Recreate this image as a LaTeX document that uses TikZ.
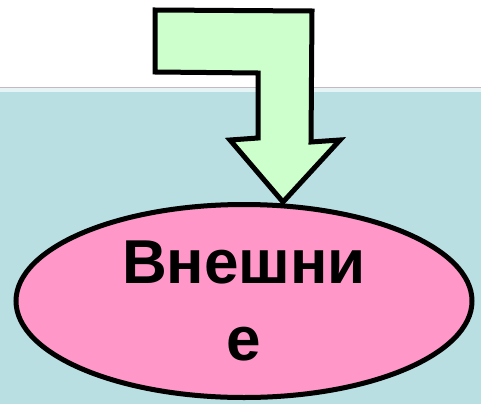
\documentclass[tikz,border=0pt]{standalone}
\usepackage{fontspec}
\setmainfont{Liberation Sans}
\usepackage{xcolor}
\usepackage{tikz}
\usetikzlibrary{shapes.geometric}
\definecolor{paleteal}{HTML}{B9DFE2}
\definecolor{tealstrip}{HTML}{E6F4F5}
\definecolor{rulegray}{HTML}{C2B9C2}
\definecolor{mint}{HTML}{CCFFCC}
\definecolor{rosepink}{HTML}{FF97C9}
\tikzset{bentarrow/.style={line width=5pt,black,fill=mint,line join=miter},
  pinkoval/.style={ellipse,draw=black,line width=5pt,fill=rosepink,inner sep=0pt,
    minimum width=456pt,minimum height=193pt,align=center,
    font=\fontsize{62}{77}\selectfont\bfseries}}

\begin{document}
\begin{tikzpicture}[x=1pt,y=-1pt]
\useasboundingbox (0,0) rectangle (481,404);
\fill[white] (0,0) rectangle (481,87);
\fill[tealstrip] (0,88) rectangle (481,92);
\fill[paleteal] (0,92) rectangle (481,404);
\draw[rulegray,line width=1.5pt] (0,87.5) -- (481,87.5);
\node[pinkoval] (oval) at (244,301) {Внешни\\е};
\coordinate (tip) at (oval.north -| 283,0);
\draw[bentarrow] (155,10) -- (312,11) -- (311,142) -- (340,140) -- (tip)
  -- (230,140) -- (258,138) -- (258,73) -- (155,72) -- cycle;
\end{tikzpicture}
\end{document}
